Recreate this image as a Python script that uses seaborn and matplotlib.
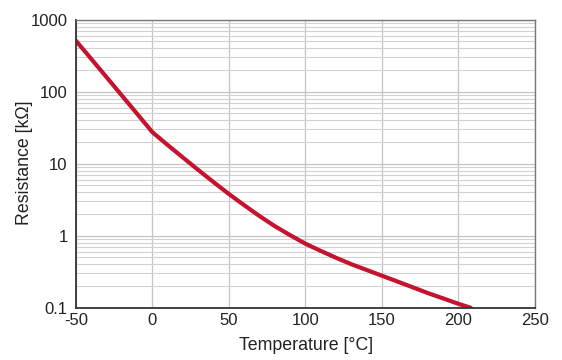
import matplotlib
matplotlib.use("Agg")
import matplotlib.pyplot as plt
import matplotlib.ticker as mticker
import seaborn as sns
import pandas as pd

# valores (curva NTC)
temperatura = [-50, -40, -30, -20, -10, 0, 10, 20, 30, 40, 50, 60, 70, 80, 90,
               100, 110, 120, 130, 140, 150, 160, 170, 180, 190, 200, 208]
resistencia = [513, 287, 160, 89, 49.5, 27.5, 18.2, 12.2, 8.2, 5.56, 3.8, 2.66,
               1.88, 1.36, 1.02, 0.776, 0.617, 0.495, 0.403, 0.335, 0.279,
               0.232, 0.193, 0.160, 0.135, 0.1135, 0.1]
x_ticks = [-50, 0, 50, 100, 150, 200, 250]
y_ticks = [0.1, 1, 10, 100, 1000]
y_labels = ["0.1", "1", "10", "100", "1000"]

df = pd.DataFrame({"Temperatura": temperatura, "Resistencia": resistencia})

sns.set_style("white")
plt.rcParams["font.family"] = ["Liberation Sans", "DejaVu Sans"]
plt.rcParams["axes.unicode_minus"] = False

fig = plt.figure(figsize=(5.62, 3.6), dpi=100)
ax = fig.add_axes([0.135, 0.145, 0.817, 0.80])

ax.set_yscale("log")
ax.set_xlim(-50, 250)
ax.set_ylim(0.1, 1000)

ax.set_xticks(x_ticks)
ax.set_yticks(y_ticks)
ax.set_yticklabels(y_labels)
ax.yaxis.set_minor_locator(mticker.LogLocator(base=10, subs=range(2, 10)))
ax.yaxis.set_minor_formatter(mticker.NullFormatter())

ax.grid(True, which="major", axis="both", color="#c4c4c4", linewidth=0.9)
ax.grid(True, which="minor", axis="y", color="#d2d2d2", linewidth=0.8)
ax.set_axisbelow(True)

sns.lineplot(data=df, x="Temperatura", y="Resistencia", ax=ax,
             color="#c4122f", linewidth=3.0)

for lado in ["left", "bottom"]:
    ax.spines[lado].set_color("#333333")
    ax.spines[lado].set_linewidth(1.3)
for lado in ["top", "right"]:
    ax.spines[lado].set_color("#777777")
    ax.spines[lado].set_linewidth(1.0)

ax.tick_params(axis="both", which="both", length=0, labelsize=12, colors="#222222")
ax.tick_params(axis="y", pad=6)
ax.tick_params(axis="x", pad=4)

ax.set_xlabel("Temperature [°C]", fontsize=12.8, color="#222222")
ax.set_ylabel("Resistance [kΩ]", fontsize=12.8, color="#222222")
ax.xaxis.set_label_coords(0.501, -0.10)
ax.yaxis.set_label_coords(-0.094, 0.505)

plt.savefig("out.png", dpi=100)
plt.close()
